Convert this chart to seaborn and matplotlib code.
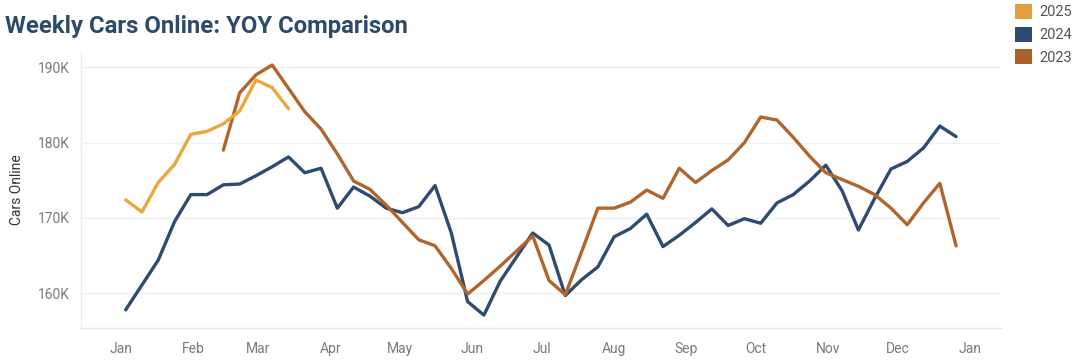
import numpy as np
import pandas as pd
import matplotlib
matplotlib.use("Agg")
import matplotlib.pyplot as plt
from matplotlib.patches import Patch
import seaborn as sns

# ---------------- data ----------------
years = ["2025", "2024", "2023"]

weeks_2025 = list(range(1, 12))
cars_2025 = [172.4, 170.8, 174.7, 177.1, 181.1, 181.5, 182.5, 184.2, 188.3, 187.3, 184.5]

weeks_2024 = list(range(1, 53))
cars_2024 = [157.8, 161.1, 164.4, 169.5, 173.1, 173.1, 174.4, 174.5, 175.6, 176.8,
             178.1, 176.0, 176.6, 171.3, 174.1, 172.9, 171.3, 170.7, 171.5, 174.3,
             168.0, 158.9, 157.1, 161.6, 164.8, 168.0, 166.4, 159.7, 161.8, 163.5,
             167.5, 168.6, 170.5, 166.2, 167.7, 169.4, 171.2, 169.0, 169.9, 169.3,
             172.0, 173.1, 174.9, 177.0, 173.6, 168.4, 172.6, 176.5, 177.5, 179.3,
             182.2, 180.8]

weeks_2023 = list(range(7, 53))
cars_2023 = [179.0, 186.6, 189.0, 190.3, 187.2, 184.1, 181.8, 178.5, 174.9, 173.8,
             171.7, 169.4, 167.1, 166.3, 163.3, 159.9, 161.7, 163.6, 165.6, 167.6,
             161.7, 159.8, 165.5, 171.3, 171.3, 172.1, 173.7, 172.6, 176.6, 174.7,
             176.3, 177.7, 180.0, 183.4, 183.0, 180.7, 178.2, 176.0, 175.1, 174.2,
             173.1, 171.3, 169.1, 172.0, 174.6, 166.3]

month_labels = ["Jan", "Feb", "Mar", "Apr", "May", "Jun", "Jul",
                "Aug", "Sep", "Oct", "Nov", "Dec", "Jan"]

line_colors = {"2025": "#E9A73E", "2024": "#2E4B71", "2023": "#B2652A"}
legend_colors = {"2025": "#E2A043", "2024": "#2D4A72", "2023": "#A9612B"}

# ---------------- build long frame ----------------
base = pd.Timestamp("2023-01-03")
frames = []
for yr, wk, val in [("2025", weeks_2025, cars_2025),
                    ("2024", weeks_2024, cars_2024),
                    ("2023", weeks_2023, cars_2023)]:
    frames.append(pd.DataFrame({
        "Year": yr,
        "Date": [base + pd.Timedelta(days=7 * (w - 1)) for w in wk],
        "Cars": np.array(val) * 1000.0,
    }))
df = pd.concat(frames, ignore_index=True)

# ---------------- plot ----------------
sns.set_theme(style="white")
plt.rcParams["font.family"] = ["Roboto", "DejaVu Sans"]

fig = plt.figure(figsize=(10.78, 3.62), dpi=100)
ax = fig.add_axes([81 / 1078, 1 - 328 / 362, (1001 - 81) / 1078, (328 - 52) / 362])

sns.lineplot(data=df, x="Date", y="Cars", hue="Year", hue_order=["2024", "2023", "2025"],
             palette=line_colors, linewidth=2.4, legend=False, ax=ax, sort=True)

ax.set_xlim(pd.Timestamp("2023-01-01") - pd.Timedelta(days=17.2),
            pd.Timestamp("2023-01-01") + pd.Timedelta(days=378.3))
ax.set_ylim(155390, 192030)

ax.set_yticks([160000, 170000, 180000, 190000])
ax.set_yticklabels(["160K", "170K", "180K", "190K"])
month_starts = pd.date_range("2023-01-01", "2024-01-01", freq="MS")
ax.set_xticks(month_starts)
ax.set_xticklabels(month_labels)

ax.grid(axis="y", color="#f0f0f0", linewidth=1.0)
ax.grid(axis="x", visible=False)
for s in ["top", "right"]:
    ax.spines[s].set_visible(False)
ax.spines["left"].set_color("#ececec")
ax.spines["bottom"].set_color("#e4e4e4")
ax.spines["left"].set_linewidth(1.0)
ax.spines["bottom"].set_linewidth(1.0)

ax.tick_params(axis="y", length=0, pad=8, labelsize=10, labelcolor="#7a7a7a")
ax.tick_params(axis="x", length=0, pad=10, labelsize=10, labelcolor="#7a7a7a")

ax.set_xlabel("")
ax.set_ylabel("")
fig.text(17 / 1078, 1 - 190 / 362, "Cars Online", rotation=90, ha="center", va="center",
         fontsize=10, color="#333333")

fig.text(5 / 1078, 1 - 26 / 362, "Weekly Cars Online: YOY Comparison", ha="left",
         va="center", fontsize=17.2, fontweight="bold", color="#2E4A6B")

handles = [Patch(facecolor=legend_colors[y], edgecolor="none", label=y) for y in years]
leg = fig.legend(handles=handles, loc="upper left", bbox_to_anchor=(1012 / 1078, 1 - 1 / 362),
                 frameon=False, fontsize=10.5, handlelength=1.2, handleheight=1.2,
                 handletextpad=0.5, labelspacing=0.5, borderaxespad=0, borderpad=0.2)
for t in leg.get_texts():
    t.set_color("#555555")

fig.savefig("out.png", dpi=100, facecolor="white")
